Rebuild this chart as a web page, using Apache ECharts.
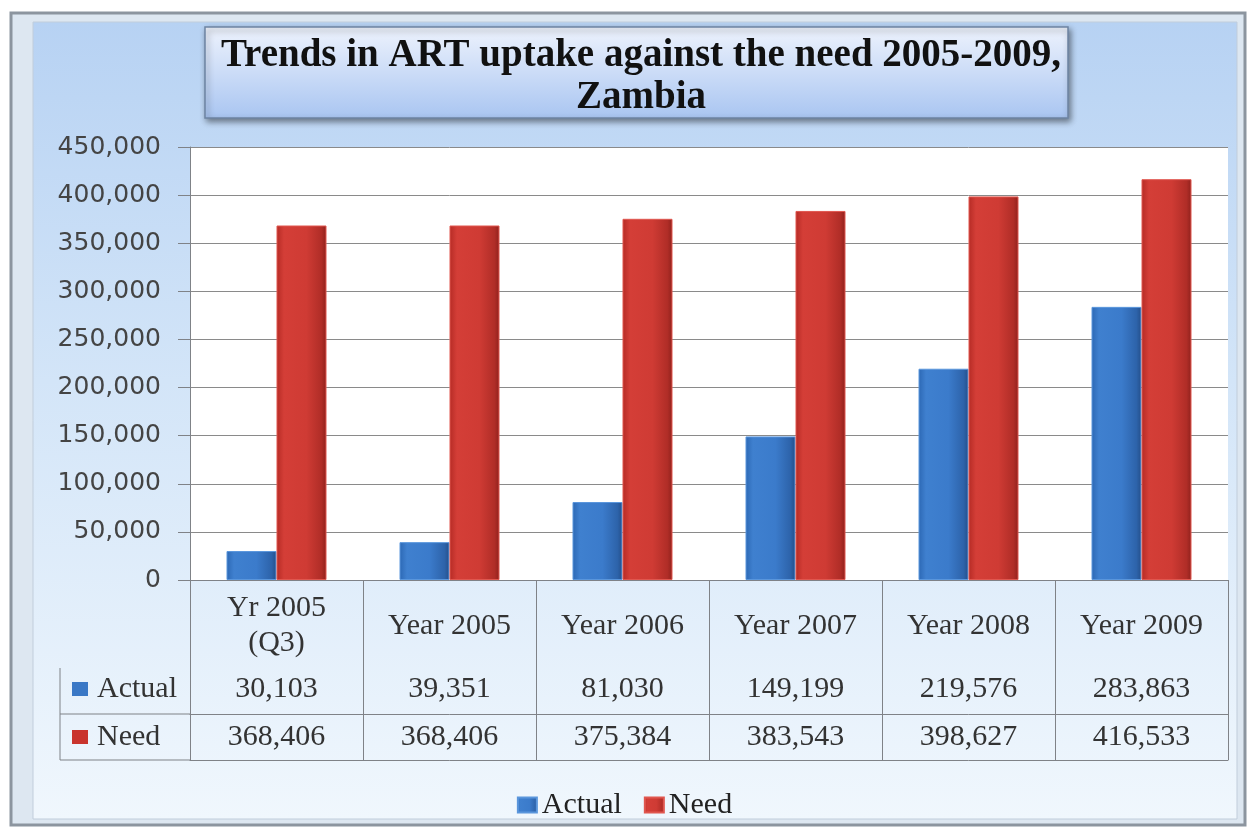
<!DOCTYPE html>
<html>
<head>
<meta charset="utf-8">
<script src="https://cdn.jsdelivr.net/npm/echarts@6/dist/echarts.min.js"></script>
<style>
  html, body { margin: 0; padding: 0; background: #ffffff; }
  #chart { width: 1249px; height: 828px; }
</style>
</head>
<body>
<div id="chart"></div>
<script>
// ---- data ----
const categories = ['Yr 2005\n(Q3)', 'Year 2005', 'Year 2006', 'Year 2007', 'Year 2008', 'Year 2009'];
const actual = [30103, 39351, 81030, 149199, 219576, 283863];
const need = [368406, 368406, 375384, 383543, 398627, 416533];
const seriesNames = ['Actual', 'Need'];
const yMin = 0, yMax = 450000, yStep = 50000;

// ---- styling ----
const serif = '"Liberation Serif", "Times New Roman", serif';
const fmt = n => Number(n).toLocaleString('en-US');
const blueGrad = new echarts.graphic.LinearGradient(0, 0, 1, 0, [
  { offset: 0, color: '#2c68b4' }, { offset: 0.15, color: '#3f80cf' },
  { offset: 0.6, color: '#3b7bcb' }, { offset: 0.9, color: '#2d63aa' }, { offset: 1, color: '#244f8a' }
]);
const redGrad = new echarts.graphic.LinearGradient(0, 0, 1, 0, [
  { offset: 0, color: '#b52b25' }, { offset: 0.15, color: '#d43e37' },
  { offset: 0.6, color: '#cf3b34' }, { offset: 0.9, color: '#b02d27' }, { offset: 1, color: '#8f211c' }
]);
const blueIcon = '#3a78c6', redIcon = '#c9342d';
const lineCol = '#7f8287';
const gridL = 190, gridR = 21, gridT = 147, gridB = 248;

const chart = echarts.init(document.getElementById('chart'), null, { renderer: 'canvas' });

const option = {
  backgroundColor: '#ffffff',
  animation: false,
  title: {
    text: 'Trends in ART uptake against the need 2005-2009,\nZambia',
    left: 636, top: 30, textAlign: 'center',
    textStyle: { fontFamily: serif, fontWeight: 'bold', fontSize: 39, lineHeight: 42, color: '#111' }
  },
  legend: {
    data: seriesNames,
    left: 'center', top: 785,
    icon: 'rect', itemWidth: 19, itemHeight: 15, itemGap: 22,
    textStyle: { fontFamily: serif, fontSize: 30, color: '#222' }
  },
  grid: {
    left: gridL, right: gridR, top: gridT, bottom: gridB,
    show: true, backgroundColor: '#ffffff', borderWidth: 0
  },
  xAxis: [
    {
      type: 'category', data: categories, position: 'bottom',
      axisLine: { show: true, lineStyle: { color: lineCol, width: 1 } },
      axisTick: { show: true, length: 180, interval: 0, lineStyle: { color: lineCol, width: 1 } },
      axisLabel: {
        interval: 0, margin: 46, verticalAlign: 'middle',
        fontFamily: serif, fontSize: 30, lineHeight: 35, color: '#333'
      }
    },
    {
      type: 'category', data: categories, position: 'bottom', offset: 134,
      axisLine: { show: true, lineStyle: { color: lineCol, width: 1 } },
      axisTick: { show: false },
      axisLabel: {
        interval: 0, inside: true, margin: 25, verticalAlign: 'middle',
        formatter: (v, i) => fmt(actual[i]),
        fontFamily: serif, fontSize: 30, color: '#333'
      }
    },
    {
      type: 'category', data: categories, position: 'bottom', offset: 180,
      axisLine: { show: true, lineStyle: { color: lineCol, width: 1 } },
      axisTick: { show: false },
      axisLabel: {
        interval: 0, inside: true, margin: 23, verticalAlign: 'middle',
        formatter: (v, i) => fmt(need[i]),
        fontFamily: serif, fontSize: 30, color: '#333'
      }
    }
  ],
  yAxis: {
    type: 'value', min: yMin, max: yMax, interval: yStep,
    axisLine: { show: true, lineStyle: { color: lineCol } },
    axisTick: { show: true, length: 12, lineStyle: { color: lineCol } },
    splitLine: { show: true, lineStyle: { color: '#8a8a8a', width: 1 } },
    axisLabel: {
      margin: 29, formatter: v => fmt(v),
      fontFamily: '"DejaVu Sans", sans-serif', fontSize: 25, color: '#444'
    }
  },
  series: [
    {
      name: seriesNames[0], type: 'bar', xAxisIndex: 0, data: actual,
      barWidth: 50, barGap: '0%',
      itemStyle: { color: blueGrad, borderColor: '#5a96dc', borderWidth: 1 }
    },
    {
      name: seriesNames[1], type: 'bar', xAxisIndex: 0, data: need,
      barWidth: 50, barGap: '0%',
      itemStyle: { color: redGrad, borderColor: '#e0574f', borderWidth: 1 }
    }
  ],
  color: [blueIcon, redIcon],
  graphic: {
    elements: [
      // outer frame
      { type: 'rect', z: -20, shape: { x: 11, y: 13, width: 1234, height: 812 },
        style: { fill: '#dde7f1', stroke: '#8c959f', lineWidth: 3 } },
      // inner panel
      { type: 'rect', z: -19, shape: { x: 33, y: 22, width: 1204, height: 797 },
        style: {
          fill: new echarts.graphic.LinearGradient(0, 0, 0, 1, [
            { offset: 0, color: '#b7d2f3' }, { offset: 0.45, color: '#d3e5f8' }, { offset: 1, color: '#f0f7fd' }
          ]),
          stroke: '#c1cddb', lineWidth: 1
        } },
      // title box
      { type: 'rect', z: -10, shape: { x: 205, y: 27, width: 863, height: 91 },
        style: {
          fill: new echarts.graphic.LinearGradient(0, 0, 0, 1, [
            { offset: 0, color: '#eef3fd' }, { offset: 1, color: '#a9c5f1' }
          ]),
          stroke: '#6d84a3', lineWidth: 1.5,
          shadowBlur: 6, shadowOffsetX: 2, shadowOffsetY: 3, shadowColor: 'rgba(0,0,0,0.45)'
        } },
      // table left column borders
      { type: 'line', z: 5, shape: { x1: 60, y1: 668, x2: 60, y2: 760 }, style: { stroke: lineCol, lineWidth: 1 } },
      { type: 'line', z: 5, shape: { x1: 60, y1: 714, x2: 190, y2: 714 }, style: { stroke: lineCol, lineWidth: 1 } },
      { type: 'line', z: 5, shape: { x1: 60, y1: 760, x2: 190, y2: 760 }, style: { stroke: lineCol, lineWidth: 1 } },
      // row headers
      { type: 'rect', z: 5, shape: { x: 72, y: 682, width: 16, height: 14 }, style: { fill: blueIcon } },
      { type: 'text', z: 5, x: 97, y: 689, style: { text: seriesNames[0], font: '30px ' + serif, fill: '#333', verticalAlign: 'middle' } },
      { type: 'rect', z: 5, shape: { x: 72, y: 730, width: 16, height: 14 }, style: { fill: redIcon } },
      { type: 'text', z: 5, x: 97, y: 737, style: { text: seriesNames[1], font: '30px ' + serif, fill: '#333', verticalAlign: 'middle' } }
    ]
  }
};
chart.setOption(option);
</script>
</body>
</html>
